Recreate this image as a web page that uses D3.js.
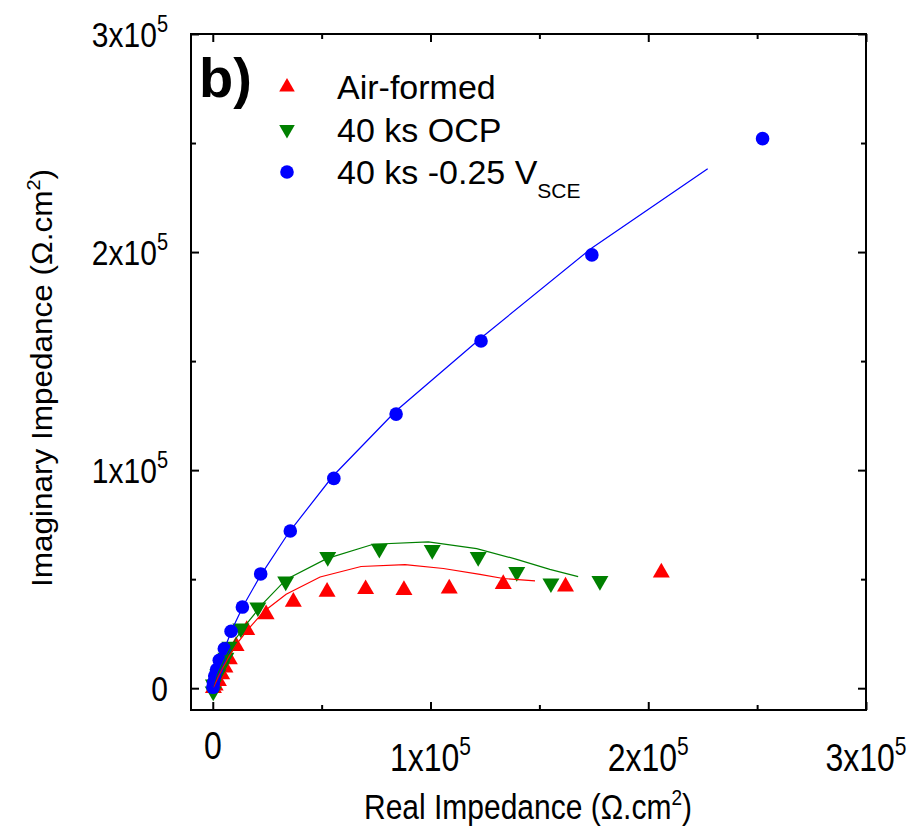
<!DOCTYPE html>
<html>
<head>
<meta charset="utf-8">
<script src="https://cdn.jsdelivr.net/npm/d3@7"></script>
<style>
body { margin: 0; background: #fff; }
text { font-family: "Liberation Sans", Arial, sans-serif; fill: #000; }
</style>
</head>
<body>
<div id="chart"></div>
<script>
// measured points (ohm.cm2)
var airReal = [206000, 162000, 133400, 108600, 87800, 70200, 52500, 37000, 24500, 15600, 10700, 7600, 5600, 4100, 2600, 1100, 300];
var airImag = [53000, 46600, 47700, 45700, 45000, 45400, 44200, 39600, 33900, 26700, 19300, 13200, 9400, 6300, 3300, 1200, 0];
var ocpReal = [177800, 155300, 139600, 121900, 100800, 76500, 52800, 33500, 20700, 12900, 7900, 6000, 4100, 2300, 300, 200];
var ocpImag = [49200, 48100, 53300, 60200, 63400, 64000, 60200, 49000, 37100, 27400, 19100, 14000, 10100, 6300, 1700, -1500];
var vsceReal = [252500, 174100, 123200, 84200, 55600, 35600, 22000, 13600, 8400, 5300, 3000, 1800, 900, 300, 100];
var vsceImag = [252000, 198700, 159200, 125700, 96200, 72100, 52400, 37200, 26100, 18100, 12800, 8600, 5600, 2500, 400];

// fitted curves
var airFitReal = [300, 2400, 4700, 7500, 11200, 16200, 23600, 33700, 49300, 68100, 88300, 105900, 122700, 133400, 148000];
var airFitImag = [400, 4900, 9500, 14600, 20600, 27000, 35300, 43100, 51000, 55800, 56700, 54900, 52200, 50300, 49200];
var ocpFitReal = [100, 2000, 4300, 7000, 10700, 15700, 23100, 33700, 52300, 73700, 99000, 121200, 139600, 154800, 167800];
var ocpFitImag = [800, 5900, 10900, 16400, 22900, 29700, 38900, 49900, 59400, 66000, 67100, 64000, 59100, 54500, 51200];
var vsceFitReal = [0, 1500, 3400, 5600, 8900, 13900, 21700, 35000, 55200, 84100, 123200, 174100, 227300];
var vsceFitImag = [400, 5900, 11800, 18700, 27000, 37600, 51300, 71500, 97300, 127100, 160600, 201900, 238200];

var seriesNames = ["Air-formed", "40 ks OCP", "40 ks -0.25 V"];
var seriesColors = ["#ff0000", "#008000", "#0000ff"];

var majorTicks = [0, 100000, 200000, 300000];
var minorTicks = [50000, 150000, 250000];
var tickMant = ["0", "1x10", "2x10", "3x10"];
var tickExp = ["", "5", "5", "5"];

var w = 918, h = 827;
var plotL = 191, plotR = 866, plotT = 34, plotB = 710;

var svg = d3.select("#chart").append("svg").attr("width", w).attr("height", h);

var x = d3.scaleLinear().domain([-10000, 300000]).range([plotL, plotR]);
var y = d3.scaleLinear().domain([-10000, 300000]).range([plotB, plotT]);

// ticks on all four sides, pointing inward
function tickAxis(axis, vals, len, tr) {
    var g = svg.append("g").attr("transform", tr)
        .call(axis.tickValues(vals).tickSizeInner(-len).tickSizeOuter(0).tickFormat(""));
    g.select(".domain").remove();
    g.selectAll("line").attr("stroke", "#000").attr("stroke-width", 2);
}
tickAxis(d3.axisBottom(x), majorTicks, 8, "translate(0," + plotB + ")");
tickAxis(d3.axisBottom(x), minorTicks, 5, "translate(0," + plotB + ")");
tickAxis(d3.axisTop(x), majorTicks, 8, "translate(0," + plotT + ")");
tickAxis(d3.axisTop(x), minorTicks, 5, "translate(0," + plotT + ")");
tickAxis(d3.axisLeft(y), majorTicks, 8, "translate(" + plotL + ",0)");
tickAxis(d3.axisLeft(y), minorTicks, 5, "translate(" + plotL + ",0)");
tickAxis(d3.axisRight(y), majorTicks, 8, "translate(" + plotR + ",0)");
tickAxis(d3.axisRight(y), minorTicks, 5, "translate(" + plotR + ",0)");

svg.append("rect")
    .attr("x", plotL).attr("y", plotT)
    .attr("width", plotR - plotL).attr("height", plotB - plotT)
    .attr("fill", "none").attr("stroke", "#000").attr("stroke-width", 2);

// tick labels with superscripts (text is a bit tall in the original)
var xl = svg.append("g").selectAll("text").data(majorTicks).enter().append("text")
    .attr("transform", function (d, i) {
        return "translate(" + x(d) + "," + (tickExp[i] ? 771 : 759) + ") scale(1,1.2)";
    })
    .attr("text-anchor", "middle")
    .attr("font-size", 32);
xl.append("tspan").text(function (d, i) { return tickMant[i]; });
xl.append("tspan").attr("dy", -13).attr("font-size", 21).text(function (d, i) { return tickExp[i]; });

var yl = svg.append("g").selectAll("text").data(majorTicks).enter().append("text")
    .attr("transform", function (d) { return "translate(168," + (y(d) + 13) + ") scale(1,1.15)"; })
    .attr("text-anchor", "end")
    .attr("font-size", 30);
yl.append("tspan").text(function (d, i) { return tickMant[i]; });
yl.append("tspan").attr("dy", -13).attr("font-size", 20).text(function (d, i) { return tickExp[i]; });

// axis titles
var xt = svg.append("text").attr("transform", "translate(528,819) scale(1,1.15)")
    .attr("text-anchor", "middle").attr("font-size", 30);
xt.append("tspan").text("Real Impedance (\u03A9.cm");
xt.append("tspan").attr("dy", -12).attr("font-size", 19).text("2");
xt.append("tspan").attr("dy", 12).text(")");

var yt = svg.append("text").attr("transform", "translate(52,378) rotate(-90) scale(1.05,1)")
    .attr("text-anchor", "middle").attr("font-size", 30);
yt.append("tspan").text("Imaginary Impedance (\u03A9.cm");
yt.append("tspan").attr("dy", -12).attr("font-size", 19).text("2");
yt.append("tspan").attr("dy", 12).text(")");

// markers
var triUp = d3.symbol().type(d3.symbolTriangle).size(125);
function zip(a, b) { return a.map(function (v, i) { return [v, b[i]]; }); }

svg.append("g").selectAll("path").data(zip(airReal, airImag)).enter().append("path")
    .attr("d", triUp)
    .attr("transform", function (d) { return "translate(" + x(d[0]) + "," + y(d[1]) + ")"; })
    .attr("fill", seriesColors[0]);

svg.append("g").selectAll("path").data(zip(ocpReal, ocpImag)).enter().append("path")
    .attr("d", triUp)
    .attr("transform", function (d) { return "translate(" + x(d[0]) + "," + y(d[1]) + ") rotate(180)"; })
    .attr("fill", seriesColors[1]);

svg.append("g").selectAll("circle").data(zip(vsceReal, vsceImag)).enter().append("circle")
    .attr("cx", function (d) { return x(d[0]); })
    .attr("cy", function (d) { return y(d[1]); })
    .attr("r", 6.8)
    .attr("fill", seriesColors[2]);

// fit lines
var line = d3.line().x(function (d) { return x(d[0]); }).y(function (d) { return y(d[1]); });
[[airFitReal, airFitImag], [ocpFitReal, ocpFitImag], [vsceFitReal, vsceFitImag]].forEach(function (s, i) {
    svg.append("path").datum(zip(s[0], s[1]))
        .attr("d", line)
        .attr("fill", "none")
        .attr("stroke", seriesColors[i])
        .attr("stroke-width", 1.2);
});

// panel label
svg.append("text").attr("x", 199).attr("y", 97).attr("font-size", 56).attr("font-weight", "bold").text("b)");

// legend
var leg = svg.append("g");
var legY = [99, 141.5, 184];
var triLeg = d3.symbol().type(d3.symbolTriangle).size(105);
leg.append("path").attr("d", triLeg).attr("fill", seriesColors[0])
    .attr("transform", "translate(287," + (legY[0] - 12) + ")");
leg.append("path").attr("d", triLeg).attr("fill", seriesColors[1])
    .attr("transform", "translate(287," + (legY[1] - 12) + ") rotate(180)");
leg.append("circle").attr("cx", 287).attr("cy", legY[2] - 12).attr("r", 6.8).attr("fill", seriesColors[2]);

seriesNames.forEach(function (n, i) {
    var t = leg.append("text").attr("x", 337).attr("y", legY[i]).attr("font-size", 34);
    t.append("tspan").text(n);
    if (i == 2) {
        t.append("tspan").attr("dy", 14).attr("font-size", 21).text("SCE");
    }
});
</script>
</body>
</html>
